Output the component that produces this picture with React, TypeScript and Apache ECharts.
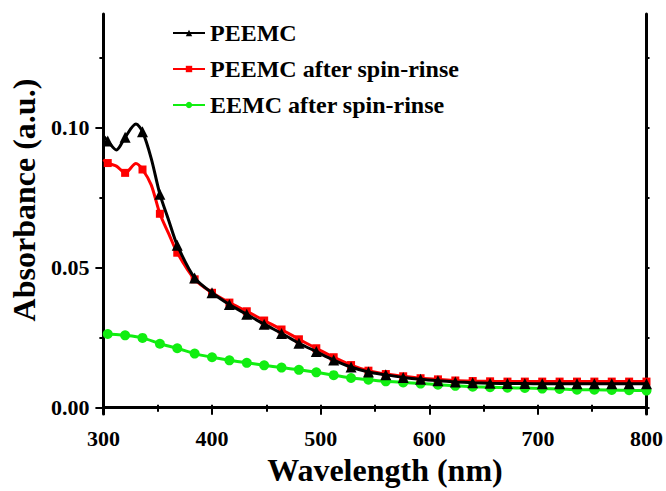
import React, { useEffect, useRef } from "react";
import * as echarts from "echarts";

// Wavelengths (nm) where the markers are drawn
const markerWl = [
  304, 320, 336, 352, 368, 384, 400, 416, 432, 448, 464, 480, 496, 512, 528, 544,
  560, 576, 592, 608, 624, 640, 656, 672, 688, 704, 720, 736, 752, 768, 784, 800,
];

// Absorbance at the marker wavelengths
const peemc = [
  0.0952, 0.0965, 0.0985, 0.0762, 0.058, 0.0463, 0.041, 0.0368, 0.0333, 0.0298, 0.0265,
  0.023, 0.02, 0.017, 0.0145, 0.0127, 0.0117, 0.0108, 0.0101, 0.0096, 0.0092, 0.0089,
  0.0087, 0.0086, 0.0086, 0.0085, 0.0085, 0.0085, 0.0085, 0.0085, 0.0085, 0.0085,
];
const peemcRinse = [
  0.0873, 0.0838, 0.085, 0.0692, 0.0553, 0.0458, 0.041, 0.0375, 0.0344, 0.0311, 0.0279,
  0.0244, 0.0212, 0.018, 0.0152, 0.0132, 0.012, 0.0112, 0.0105, 0.0101, 0.0097, 0.0095,
  0.0094, 0.0093, 0.0093, 0.0093, 0.0093, 0.0093, 0.0093, 0.0093, 0.0093, 0.0093,
];
const eemcRinse = [
  0.0263, 0.0258, 0.0249, 0.0228, 0.0212, 0.0193, 0.018, 0.0169, 0.016, 0.0151, 0.0143,
  0.0135, 0.0126, 0.0116, 0.0106, 0.01, 0.0094, 0.009, 0.0086, 0.0082, 0.0078, 0.0075,
  0.0073, 0.0071, 0.007, 0.0068, 0.0067, 0.0064, 0.0064, 0.0063, 0.0062, 0.0061,
];

// Extra points on the curves between markers (no marker drawn)
const peemcExtraWl = [300, 312, 330, 344, 360];
const peemcExtra = [0.097, 0.092, 0.1012, 0.089, 0.067];
const peemcRinseExtraWl = [300, 312, 330, 344, 360];
const peemcRinseExtra = [0.0885, 0.0862, 0.0871, 0.0795, 0.0622];
const eemcRinseExtraWl = [300];
const eemcRinseExtra = [0.0266];

// Axis ticks
const xMajorTicks = [300, 400, 500, 600, 700, 800];
const yLabelValues = [0, 0.05, 0.1];
const yMinorValues = [0.025, 0.075, 0.125];
const yAllValues = [0, 0.025, 0.05, 0.075, 0.1, 0.125];

const seriesNames = ["PEEMC", "PEEMC after spin-rinse", "EEMC after spin-rinse"];

const FONT = "'Liberation Serif', 'Times New Roman', serif";

function buildData(xs: number[], ys: number[], exXs: number[], exYs: number[]) {
  const items: any[] = [];
  xs.forEach((x, i) => items.push({ value: [x, ys[i]] }));
  exXs.forEach((x, i) => items.push({ value: [x, exYs[i]], symbol: "none" }));
  items.sort((a, b) => a.value[0] - b.value[0]);
  return items;
}

export default function App() {
  const ref = useRef<HTMLDivElement>(null);
  useEffect(() => {
    const chart = echarts.init(ref.current!, null, { renderer: "svg" });
    const axisLine = { show: true, lineStyle: { color: "#000", width: 3 } };
    const option: any = {
      animation: false,
      backgroundColor: "#fff",
      grid: { left: 98, right: 19, top: 14, bottom: 70 },
      legend: {
        orient: "vertical",
        left: 172,
        top: 21,
        padding: 0,
        itemWidth: 32,
        itemHeight: 8,
        itemGap: 12,
        data: seriesNames,
        textStyle: { fontFamily: FONT, fontSize: 24, fontWeight: "bold", color: "#000" },
      },
      xAxis: [
        {
          type: "value",
          min: 300,
          max: 800,
          interval: 100,
          position: "bottom",
          axisLine,
          axisTick: { show: true, inside: false, length: 7, lineStyle: { width: 2, color: "#000" } },
          minorTick: { show: true, splitNumber: 2, length: 4, lineStyle: { width: 2, color: "#000" } },
          splitLine: { show: false },
          axisLabel: {
            fontFamily: FONT,
            fontSize: 22,
            fontWeight: "bold",
            color: "#000",
            margin: 13,
            customValues: xMajorTicks,
          },
          name: "Wavelength (nm)",
          nameLocation: "middle",
          nameGap: 28,
          nameTextStyle: {
            fontFamily: FONT,
            fontSize: 32,
            fontWeight: "bold",
            color: "#000",
            padding: [0, 0, 0, 20],
          },
        },
        {
          type: "value",
          min: 300,
          max: 800,
          interval: 50,
          position: "top",
          axisLine,
          axisTick: { show: true, inside: false, length: 3, lineStyle: { width: 2, color: "#000" } },
          axisLabel: { show: false },
          splitLine: { show: false },
        },
      ],
      yAxis: [
        {
          type: "value",
          min: -0.0023,
          max: 0.1405,
          position: "left",
          axisLine,
          axisTick: {
            show: true,
            inside: false,
            length: 8,
            lineStyle: { width: 2, color: "#000" },
            customValues: yLabelValues,
          },
          splitLine: { show: false },
          axisLabel: {
            fontFamily: FONT,
            fontSize: 22,
            fontWeight: "bold",
            color: "#000",
            margin: 14,
            customValues: yLabelValues,
            formatter: (v: number) => v.toFixed(2),
          },
          name: "Absorbance (a.u.)",
          nameLocation: "middle",
          nameGap: 56,
          nameTextStyle: {
            fontFamily: FONT,
            fontSize: 32,
            fontWeight: "bold",
            color: "#000",
            padding: [0, 0, 0, 28],
          },
        },
        {
          type: "value",
          min: -0.0023,
          max: 0.1405,
          position: "left",
          axisLine: { show: false },
          axisTick: {
            show: true,
            inside: false,
            length: 4,
            lineStyle: { width: 2, color: "#000" },
            customValues: yMinorValues,
          },
          axisLabel: { show: false },
          splitLine: { show: false },
        },
        {
          type: "value",
          min: -0.0023,
          max: 0.1405,
          position: "right",
          axisLine,
          axisTick: {
            show: true,
            inside: false,
            length: 3,
            lineStyle: { width: 2, color: "#000" },
            customValues: yAllValues,
          },
          axisLabel: { show: false },
          splitLine: { show: false },
        },
      ],
      series: [
        {
          name: seriesNames[0],
          type: "line",
          z: 4,
          smooth: 0.3,
          data: buildData(markerWl, peemc, peemcExtraWl, peemcExtra),
          symbol: "triangle",
          symbolSize: 11,
          color: "#000",
          lineStyle: { width: 3, color: "#000" },
          itemStyle: { color: "#000" },
        },
        {
          name: seriesNames[1],
          type: "line",
          z: 3,
          smooth: 0.3,
          data: buildData(markerWl, peemcRinse, peemcRinseExtraWl, peemcRinseExtra),
          symbol: "rect",
          symbolSize: 8,
          color: "#ff0000",
          lineStyle: { width: 3, color: "#ff0000" },
          itemStyle: { color: "#ff0000" },
        },
        {
          name: seriesNames[2],
          type: "line",
          z: 2,
          smooth: 0.3,
          data: buildData(markerWl, eemcRinse, eemcRinseExtraWl, eemcRinseExtra),
          symbol: "circle",
          symbolSize: 10,
          color: "#11ee11",
          lineStyle: { width: 3, color: "#11ee11" },
          itemStyle: { color: "#11ee11" },
        },
      ],
    };
    chart.setOption(option);
    return () => chart.dispose();
  }, []);
  return (
    <div
      ref={ref}
      style={{ position: "fixed", left: 0, top: 0, width: 666, height: 491, background: "#fff" }}
    />
  );
}
